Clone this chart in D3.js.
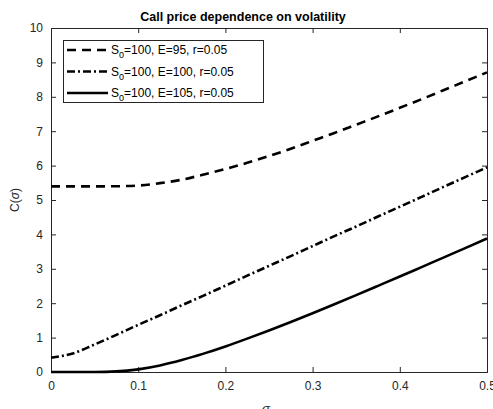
<!DOCTYPE html>
<html><head><meta charset="utf-8">
<script src="https://cdn.jsdelivr.net/npm/d3@7"></script>
<style>body{margin:0;background:#fff}svg{display:block}text{font-family:"Liberation Sans",Arial,sans-serif}</style>
</head><body><svg id="c" width="493" height="409"></svg>
<script>
const sigma = [0,0.025,0.05,0.075,0.1,0.125,0.15,0.175,0.2,0.225,0.25,0.275,0.3,0.325,0.35,0.375,0.4,0.425,0.45,0.475,0.5];
const callE95  = [5.395,5.395,5.395,5.40,5.42,5.49,5.59,5.74,5.90,6.08,6.28,6.49,6.72,6.95,7.19,7.43,7.68,7.93,8.19,8.45,8.71];
const callE100 = [0.416,0.54,0.80,1.08,1.37,1.65,1.94,2.22,2.51,2.80,3.085,3.37,3.66,3.95,4.23,4.52,4.805,5.09,5.38,5.665,5.95];
const callE105 = [0,0,0.001,0.018,0.077,0.19,0.347,0.534,0.743,0.97,1.209,1.455,1.709,1.97,2.236,2.505,2.775,3.05,3.325,3.60,3.88];
const seriesLabels = ["=100, E=95, r=0.05","=100, E=100, r=0.05","=100, E=105, r=0.05"];
const xTicks = [0,0.1,0.2,0.3,0.4,0.5];
const yTicks = [0,1,2,3,4,5,6,7,8,9,10];

const svg = d3.select("#c");
const L=51, R=487, T=28, B=372;
const x = d3.scaleLinear().domain([0,0.5]).range([L,R]);
const y = d3.scaleLinear().domain([0,10]).range([B,T]);
const axCol = "#262626";

// axes
const gx = svg.append("g").attr("transform",`translate(0,${B})`)
  .call(d3.axisBottom(x).tickValues(xTicks).tickSize(-5).tickPadding(9).tickFormat(d3.format("")));
const gxt = svg.append("g").attr("transform",`translate(0,${T})`)
  .call(d3.axisTop(x).tickValues(xTicks).tickSize(-5).tickFormat(""));
const gy = svg.append("g").attr("transform",`translate(${L},0)`)
  .call(d3.axisLeft(y).tickValues(yTicks).tickSize(-5).tickPadding(8));
const gyr = svg.append("g").attr("transform",`translate(${R},0)`)
  .call(d3.axisRight(y).tickValues(yTicks).tickSize(-5).tickFormat(""));
[gx,gxt,gy,gyr].forEach(g=>{
  g.select(".domain").attr("stroke",axCol).attr("stroke-width",1);
  g.selectAll(".tick line").attr("stroke",axCol).attr("stroke-width",1);
  g.selectAll(".tick text").attr("fill",axCol).style("font-size","12px").style("font-family","Liberation Sans, Arial, sans-serif");
});

const line = d3.line().x((d,i)=>x(sigma[i])).y(d=>y(d)).curve(d3.curveMonotoneX);
const styles = [
  {data:callE95, dash:"9,6"},
  {data:callE100, dash:"8,3,2,3"},
  {data:callE105, dash:null}
];
styles.forEach(s=>{
  const p = svg.append("path").datum(s.data).attr("d",line)
    .attr("fill","none").attr("stroke","#000").attr("stroke-width",2.6);
  if (s.dash) p.attr("stroke-dasharray",s.dash);
});

// title
svg.append("text").attr("x",243).attr("y",21).attr("text-anchor","middle")
  .style("font-size","12.5px").style("font-weight","bold").attr("fill","#000")
  .text("Call price dependence on volatility");
// x label
svg.append("text").attr("x",266).attr("y",413).attr("text-anchor","middle")
  .style("font-size","13px").style("font-style","italic").attr("fill",axCol).text("σ");
// y label
svg.append("text").attr("transform","translate(19,200) rotate(-90)").attr("text-anchor","middle")
  .style("font-size","12px").attr("fill",axCol)
  .html('C(<tspan font-style="italic">σ</tspan>)');

// legend
const lg = svg.append("g");
lg.append("rect").attr("x",63.5).attr("y",40.5).attr("width",200).attr("height",62)
  .attr("fill","#fff").attr("stroke",axCol).attr("stroke-width",1);
const rowY = [50,71.5,93];
styles.forEach((s,i)=>{
  const l = lg.append("line").attr("x1",67).attr("x2",108).attr("y1",rowY[i]).attr("y2",rowY[i])
    .attr("stroke","#000").attr("stroke-width",2.6);
  if (s.dash) l.attr("stroke-dasharray",s.dash);
  const t = lg.append("text").attr("x",111).attr("y",rowY[i]+4).style("font-size","12px").attr("fill","#000");
  t.append("tspan").text("S");
  t.append("tspan").attr("dy",4).style("font-size","9px").text("0");
  t.append("tspan").attr("dy",-4).text(seriesLabels[i]);
});
</script></body></html>
